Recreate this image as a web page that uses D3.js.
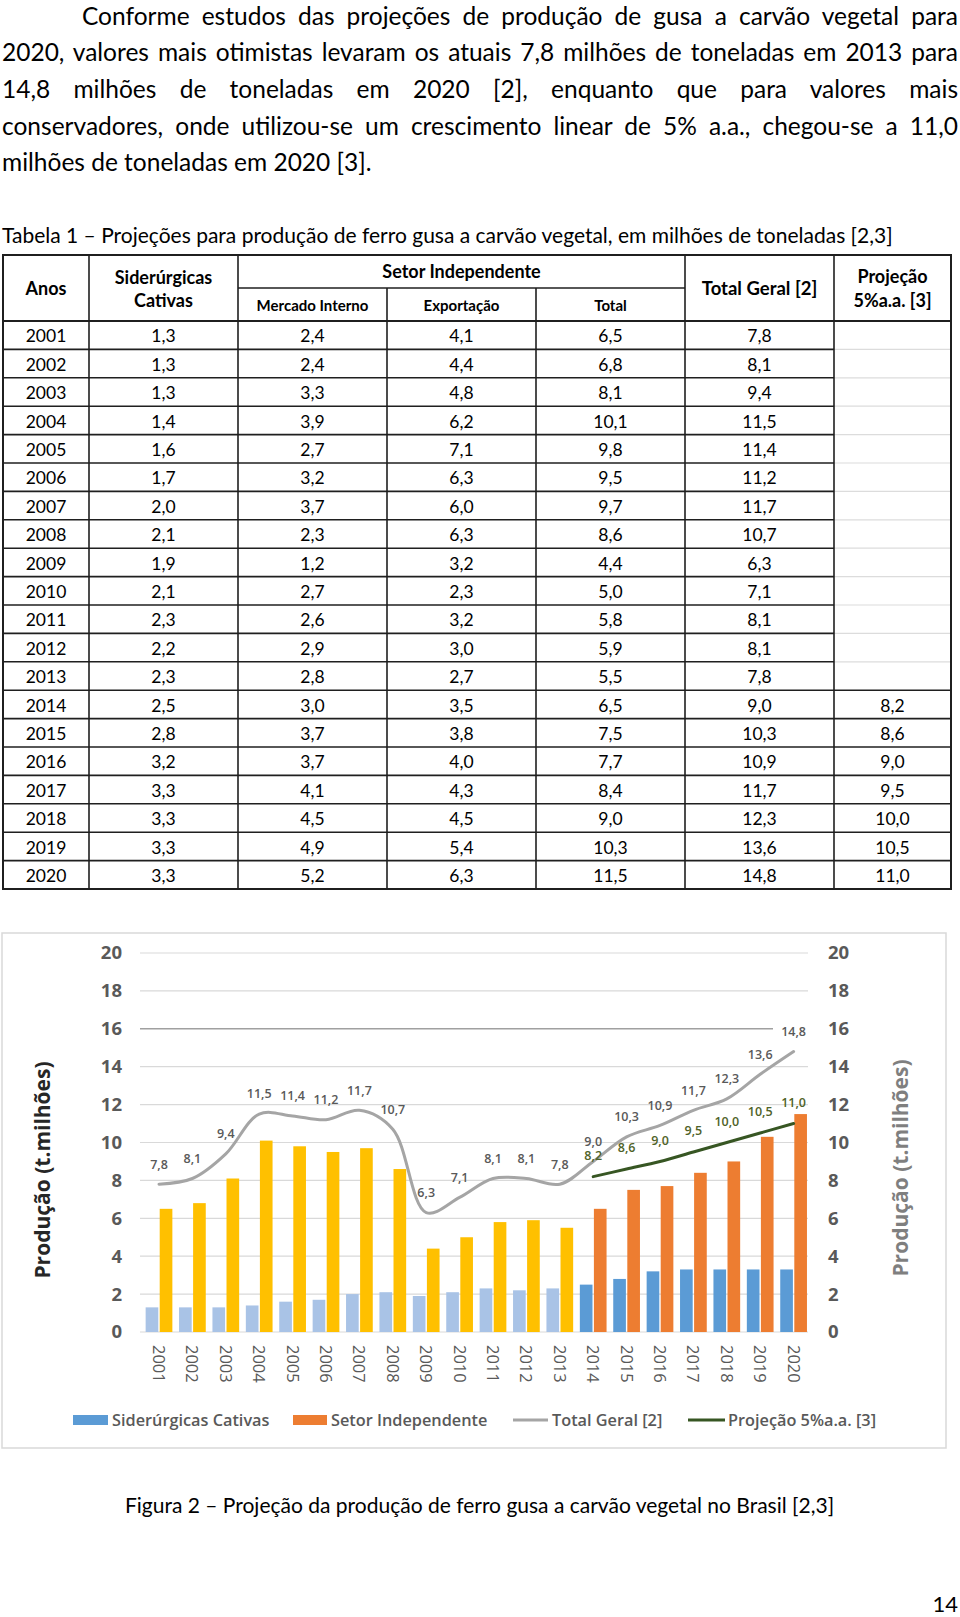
<!DOCTYPE html>
<html><head><meta charset="utf-8">
<script src="https://cdn.jsdelivr.net/npm/d3@7"></script>
<style>
html,body{margin:0;padding:0;background:#fff;}
svg{display:block;}
</style></head><body>
<svg id="page" width="960" height="1617"></svg>
<script>
// ---------------- DATA ----------------
const paragraphLines = [
  "Conforme estudos das projeções de produção de gusa a carvão vegetal para",
  "2020, valores mais otimistas levaram os atuais 7,8 milhões de toneladas em 2013 para",
  "14,8 milhões de toneladas em 2020 [2], enquanto que para valores mais",
  "conservadores, onde utilizou-se um crescimento linear de 5% a.a., chegou-se a 11,0",
  "milhões de toneladas em 2020 [3]."
];
const tableCaption = "Tabela 1 – Projeções para produção de ferro gusa a carvão vegetal, em milhões de toneladas [2,3]";
const years = [2001,2002,2003,2004,2005,2006,2007,2008,2009,2010,2011,2012,2013,2014,2015,2016,2017,2018,2019,2020];
const cativas = [1.3,1.3,1.3,1.4,1.6,1.7,2.0,2.1,1.9,2.1,2.3,2.2,2.3,2.5,2.8,3.2,3.3,3.3,3.3,3.3];
const mercadoInterno = [2.4,2.4,3.3,3.9,2.7,3.2,3.7,2.3,1.2,2.7,2.6,2.9,2.8,3.0,3.7,3.7,4.1,4.5,4.9,5.2];
const exportacao = [4.1,4.4,4.8,6.2,7.1,6.3,6.0,6.3,3.2,2.3,3.2,3.0,2.7,3.5,3.8,4.0,4.3,4.5,5.4,6.3];
const setorIndependente = [6.5,6.8,8.1,10.1,9.8,9.5,9.7,8.6,4.4,5.0,5.8,5.9,5.5,6.5,7.5,7.7,8.4,9.0,10.3,11.5];
const totalGeral = [7.8,8.1,9.4,11.5,11.4,11.2,11.7,10.7,6.3,7.1,8.1,8.1,7.8,9.0,10.3,10.9,11.7,12.3,13.6,14.8];
const projecao = [null,null,null,null,null,null,null,null,null,null,null,null,null,8.2,8.6,9.0,9.5,10.0,10.5,11.0];
const headerTop = ["Anos", "Siderúrgicas\nCativas", "Setor Independente", "Total Geral [2]", "Projeção\n5%a.a. [3]"];
const headerSub = ["Mercado Interno", "Exportação", "Total"];
const yTicks = [0,2,4,6,8,10,12,14,16,18,20];
const yAxisTitle = "Produção (t.milhões)";
const legendLabels = ["Siderúrgicas Cativas", "Setor Independente", "Total Geral [2]", "Projeção 5%a.a. [3]"];
const figureCaption = "Figura 2 – Projeção da produção de ferro gusa a carvão vegetal no Brasil [2,3]";
const pageNumber = "14";

// ---------------- SETUP ----------------
const FONT_BODY = "Lato, 'Noto Sans', sans-serif";
const FONT_CHART = "'Open Sans', 'Noto Sans', sans-serif";
const fmt = v => v == null ? "" : d3.format(".1f")(v).replace(".", ",");
const svg = d3.select("#page");

// ---------------- PARAGRAPH ----------------
const pg = svg.append("g").attr("font-family", FONT_BODY).attr("font-size", 24.5).attr("fill", "#000");
paragraphLines.forEach((line, i) => {
  const x0 = i === 0 ? 82 : 2;
  const t = pg.append("text").attr("x", x0).attr("y", 24.5 + i * 36.7).text(line);
  if (i < paragraphLines.length - 1) {
    const w = t.node().getComputedTextLength();
    const spaces = (line.match(/ /g) || []).length;
    t.style("word-spacing", ((958 - x0 - w) / spaces) + "px");
  }
});

// ---------------- TABLE ----------------
svg.append("text").attr("x", 2).attr("y", 243).attr("font-family", FONT_BODY)
  .attr("font-size", 21).text(tableCaption);

const colX = [3, 89, 238, 387, 536, 685, 834, 951];
const tTop = 255, tSub = 288, tHead = 321, rowH = 28.4;
const tBottom = tHead + rowH * years.length;
const tg = svg.append("g");
const dark = "#1f1f1f", light = "#dcdcdc";

years.forEach((yr, i) => {
  if (i === 0) return;
  const yy = tHead + i * rowH;
  const isDark = projecao[i] != null || projecao[i - 1] != null;
  tg.append("line").attr("x1", colX[6]).attr("x2", colX[7]).attr("y1", yy).attr("y2", yy)
    .attr("stroke", isDark ? dark : light).attr("stroke-width", isDark ? 1.6 : 1.2);
  tg.append("line").attr("x1", colX[0]).attr("x2", colX[6]).attr("y1", yy).attr("y2", yy)
    .attr("stroke", dark).attr("stroke-width", 1.6);
});
tg.append("line").attr("x1", colX[2]).attr("x2", colX[5]).attr("y1", tSub).attr("y2", tSub).attr("stroke", dark).attr("stroke-width", 1.6);
tg.append("line").attr("x1", colX[0]).attr("x2", colX[7]).attr("y1", tHead).attr("y2", tHead).attr("stroke", dark).attr("stroke-width", 2);
colX.slice(1, -1).forEach((x, i) => {
  const idx = i + 1;
  const y1 = (idx === 3 || idx === 4) ? tSub : tTop;
  tg.append("line").attr("x1", x).attr("x2", x).attr("y1", y1).attr("y2", tBottom).attr("stroke", dark).attr("stroke-width", 1.6);
});
tg.append("rect").attr("x", colX[0]).attr("y", tTop).attr("width", colX[7] - colX[0]).attr("height", tBottom - tTop)
  .attr("fill", "none").attr("stroke", dark).attr("stroke-width", 2);

const hg = tg.append("g").attr("font-family", FONT_BODY).attr("font-weight", 700).attr("fill", "#000").attr("text-anchor", "middle");
function multi(textStr, cx, cy, fs, gap) {
  const parts = textStr.split("\n");
  parts.forEach((p, k) => {
    const off = (k - (parts.length - 1) / 2) * gap;
    hg.append("text").attr("x", cx).attr("y", cy + off).attr("dy", "0.35em").attr("font-size", fs).text(p);
  });
}
const mid = (a, b) => (a + b) / 2;
multi(headerTop[0], mid(colX[0], colX[1]), 289, 18, 23);
multi(headerTop[1], mid(colX[1], colX[2]), 289, 18, 23);
multi(headerTop[2], mid(colX[2], colX[5]), 272, 18, 23);
multi(headerTop[3], mid(colX[5], colX[6]), 289, 18.5, 23);
multi(headerTop[4], mid(colX[6], colX[7]), 289, 18, 24);
headerSub.forEach((h, k) => multi(h, mid(colX[2 + k], colX[3 + k]), 305.5, 15, 0));

const columns = [years.map(String), cativas.map(fmt), mercadoInterno.map(fmt), exportacao.map(fmt),
  setorIndependente.map(fmt), totalGeral.map(fmt), projecao.map(fmt)];
const bg = tg.append("g").attr("font-family", FONT_BODY).attr("font-size", 17.5).attr("fill", "#000").attr("text-anchor", "middle");
columns.forEach((col, c) => {
  bg.selectAll(null).data(col).join("text")
    .attr("x", mid(colX[c], colX[c + 1]))
    .attr("y", (d, i) => tHead + (i + 0.5) * rowH + 1)
    .attr("dy", "0.35em")
    .text(d => d);
});

// ---------------- CHART ----------------
const cg = svg.append("g").attr("font-family", FONT_CHART);
cg.append("rect").attr("x", 2).attr("y", 933).attr("width", 944).attr("height", 515)
  .attr("fill", "#fff").attr("stroke", "#d9d9d9").attr("stroke-width", 1.5);

const x0 = d3.scaleBand().domain(years).range([142.3, 810.3]).paddingInner(0.2).paddingOuter(0.1);
const x1 = d3.scaleBand().domain(["cat", "ind"]).range([0, x0.bandwidth()]).paddingInner(0.1);
const y = d3.scaleLinear().domain([0, 20]).range([1332, 953]);
const cx = yr => x0(yr) + x0.bandwidth() / 2;

cg.append("g").selectAll("line").data(yTicks).join("line")
  .attr("x1", 140).attr("x2", d => d === 16 ? 773 : 808)
  .attr("y1", d => y(d)).attr("y2", d => y(d))
  .attr("stroke", d => d === 16 ? "#a0a0a0" : "#d9d9d9").attr("stroke-width", d => d === 16 ? 1.5 : 1.2);

const styleAxis = g => {
  g.select(".domain").remove();
  g.selectAll("text").attr("font-family", FONT_CHART).attr("font-size", 18.5).attr("font-weight", 700).attr("fill", "#595959");
};
cg.append("g").attr("transform", "translate(124,0)")
  .call(d3.axisLeft(y).tickValues(yTicks).tickSize(0).tickPadding(2).tickFormat(d3.format("d"))).call(styleAxis);
cg.append("g").attr("transform", "translate(826,0)")
  .call(d3.axisRight(y).tickValues(yTicks).tickSize(0).tickPadding(2).tickFormat(d3.format("d"))).call(styleAxis);
const xa = cg.append("g").attr("transform", "translate(0,1332)")
  .call(d3.axisBottom(x0).tickSize(0).tickFormat(d3.format("d")));
xa.select(".domain").remove();
xa.selectAll("text").attr("font-family", FONT_CHART).attr("font-size", 16.5).attr("fill", "#595959")
  .attr("transform", "rotate(90)").attr("x", 13).attr("y", 0).attr("dy", "0.36em").style("text-anchor", "start");

const histCat = "#a9c3e6", histInd = "#ffc000", projCat = "#5b9bd5", projInd = "#ed7d31";
const bars = cg.append("g");
years.forEach((yr, i) => {
  const hist = projecao[i] == null;
  bars.append("rect").attr("x", x0(yr) + x1("cat")).attr("width", x1.bandwidth())
    .attr("y", y(cativas[i])).attr("height", y(0) - y(cativas[i])).attr("fill", hist ? histCat : projCat);
  bars.append("rect").attr("x", x0(yr) + x1("ind")).attr("width", x1.bandwidth())
    .attr("y", y(setorIndependente[i])).attr("height", y(0) - y(setorIndependente[i])).attr("fill", hist ? histInd : projInd);
});

const lineTot = d3.line().x((d, i) => cx(years[i])).y(d => y(d)).curve(d3.curveCatmullRom.alpha(0.5));
cg.append("path").attr("d", lineTot(totalGeral)).attr("fill", "none").attr("stroke", "#a5a5a5").attr("stroke-width", 3).attr("stroke-linecap", "round");
const projPts = years.map((yr, i) => ({yr, v: projecao[i]})).filter(d => d.v != null);
const lineProj = d3.line().x(d => cx(d.yr)).y(d => y(d.v)).curve(d3.curveCatmullRom.alpha(0.5));
cg.append("path").attr("d", lineProj(projPts)).attr("fill", "none").attr("stroke", "#375623").attr("stroke-width", 3).attr("stroke-linecap", "round");

cg.append("g").attr("font-size", 12.5).attr("font-weight", 600).attr("fill", "#595959").attr("text-anchor", "middle")
  .selectAll("text").data(totalGeral).join("text")
  .attr("x", (d, i) => cx(years[i])).attr("y", d => y(d) - 20).attr("dy", "0.35em").text(fmt);
cg.append("g").attr("font-size", 12.5).attr("font-weight", 600).attr("fill", "#4f6228").attr("text-anchor", "middle")
  .selectAll("text").data(projPts).join("text")
  .attr("x", d => cx(d.yr)).attr("y", d => y(d.v) - 21).attr("dy", "0.35em").text(d => fmt(d.v));

cg.append("text").attr("transform", "translate(43,1170) rotate(-90)").attr("text-anchor", "middle").attr("dy", "0.35em")
  .attr("font-size", 21).attr("font-weight", 700).attr("fill", "#262626").text(yAxisTitle);
cg.append("text").attr("transform", "translate(901,1168) rotate(-90)").attr("text-anchor", "middle").attr("dy", "0.35em")
  .attr("font-size", 21).attr("font-weight", 700).attr("fill", "#7f7f7f").text(yAxisTitle);

const lg = cg.append("g").attr("font-size", 16.3).attr("font-weight", 600).attr("fill", "#595959");
const legY = 1420;
lg.append("rect").attr("x", 73).attr("y", legY - 5).attr("width", 35).attr("height", 10).attr("fill", projCat);
lg.append("rect").attr("x", 293).attr("y", legY - 5).attr("width", 34).attr("height", 10).attr("fill", projInd);
lg.append("line").attr("x1", 513).attr("x2", 548).attr("y1", legY).attr("y2", legY).attr("stroke", "#a5a5a5").attr("stroke-width", 3);
lg.append("line").attr("x1", 688).attr("x2", 725).attr("y1", legY).attr("y2", legY).attr("stroke", "#375623").attr("stroke-width", 3);
[112, 331, 552, 728].forEach((lx, k) => {
  lg.append("text").attr("x", lx).attr("y", legY).attr("dy", "0.35em").text(legendLabels[k]);
});

// ---------------- CAPTION / PAGE ----------------
svg.append("text").attr("x", 479.5).attr("y", 1513).attr("text-anchor", "middle").attr("font-family", FONT_BODY)
  .attr("font-size", 21).text(figureCaption);
svg.append("text").attr("x", 958).attr("y", 1612).attr("text-anchor", "end").attr("font-family", FONT_BODY)
  .attr("font-size", 22).text(pageNumber);
</script>
</body></html>
